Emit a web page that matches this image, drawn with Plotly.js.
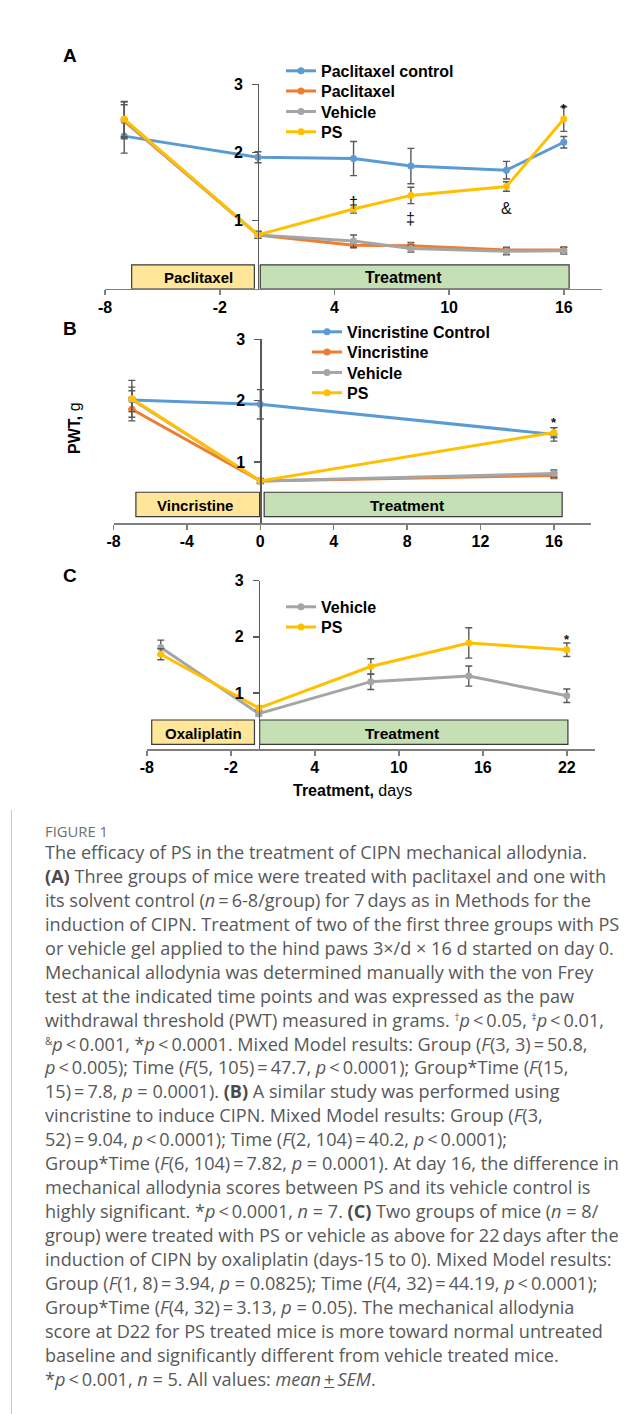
<!DOCTYPE html>
<html>
<head>
<meta charset="utf-8">
<script src="https://cdn.plot.ly/plotly-3.0.1.min.js"></script>
<style>
  html, body { margin: 0; padding: 0; background: #fff; }
  #page { position: relative; width: 643px; height: 1414px; overflow: hidden; background: #fff; }
  #frame { position: absolute; left: 11px; top: 11px; width: 700px; height: 1500px;
           border-top: 1.5px solid #c9c9c9; border-left: 1.5px solid #c9c9c9; }
  #chart { position: absolute; left: 0; top: 0; width: 643px; height: 810px; }
  #figlabel { position: absolute; left: 45px; top: 821px; font-family: "Open Sans", Lato, sans-serif;
              font-size: 14.8px; line-height: 20px; color: #6f6f6f; }
  #caption { position: absolute; left: 45px; top: 841px; font-family: "Open Sans", Lato, sans-serif;
             font-size: 18.1px; line-height: 23.94px; color: #585858; white-space: nowrap; }
  #caption b { font-weight: bold; color: #4a4a4a; }
  #caption sup { font-size: 10px; vertical-align: 6px; line-height: 0; }
</style>
</head>
<body>
<div id="page">
  <div id="frame"></div>
  <div id="chart"></div>
  <div id="figlabel">FIGURE 1</div>
  <div id="caption">
The efficacy of PS in the treatment of CIPN mechanical allodynia.<br>
<b>(A)</b> Three groups of mice were treated with paclitaxel and one with<br>
its solvent control (<i>n</i>&#8201;=&#8201;6-8/group) for 7&#8201;days as in Methods for the<br>
induction of CIPN. Treatment of two of the first three groups with PS<br>
or vehicle gel applied to the hind paws 3×/d × 16 d started on day 0.<br>
Mechanical allodynia was determined manually with the von Frey<br>
test at the indicated time points and was expressed as the paw<br>
withdrawal threshold (PWT) measured in grams. <sup>†</sup><i>p</i>&#8201;&lt;&#8201;0.05, <sup>‡</sup><i>p</i>&#8201;&lt;&#8201;0.01,<br>
<sup>&amp;</sup><i>p</i>&#8201;&lt;&#8201;0.001, *<i>p</i>&#8201;&lt;&#8201;0.0001. Mixed Model results: Group (<i>F</i>(3, 3)&#8201;=&#8201;50.8,<br>
<i>p</i>&#8201;&lt;&#8201;0.005); Time (<i>F</i>(5, 105)&#8201;=&#8201;47.7, <i>p</i>&#8201;&lt;&#8201;0.0001); Group*Time (<i>F</i>(15,<br>
15)&#8201;=&#8201;7.8, <i>p</i> = 0.0001). <b>(B)</b> A similar study was performed using<br>
vincristine to induce CIPN. Mixed Model results: Group (<i>F</i>(3,<br>
52)&#8201;=&#8201;9.04, <i>p</i>&#8201;&lt;&#8201;0.0001); Time (<i>F</i>(2, 104)&#8201;=&#8201;40.2, <i>p</i>&#8201;&lt;&#8201;0.0001);<br>
Group*Time (<i>F</i>(6, 104)&#8201;=&#8201;7.82, <i>p</i> = 0.0001). At day 16, the difference in<br>
mechanical allodynia scores between PS and its vehicle control is<br>
highly significant. *<i>p</i>&#8201;&lt;&#8201;0.0001, <i>n</i> = 7. <b>(C)</b> Two groups of mice (<i>n</i> = 8/<br>
group) were treated with PS or vehicle as above for 22&#8201;days after the<br>
induction of CIPN by oxaliplatin (days-15 to 0). Mixed Model results:<br>
Group (<i>F</i>(1, 8)&#8201;=&#8201;3.94, <i>p</i> = 0.0825); Time (<i>F</i>(4, 32)&#8201;=&#8201;44.19, <i>p</i>&#8201;&lt;&#8201;0.0001);<br>
Group*Time (<i>F</i>(4, 32)&#8201;=&#8201;3.13, <i>p</i> = 0.05). The mechanical allodynia<br>
score at D22 for PS treated mice is more toward normal untreated<br>
baseline and significantly different from vehicle treated mice.<br>
*<i>p</i>&#8201;&lt;&#8201;0.001, <i>n</i> = 5. All values: <i>mean</i>&#8201;<u>+</u>&#8201;<i>SEM</i>.
  </div>
</div>
<script>
// ---------- Panel A: paclitaxel-induced CIPN (PWT in grams, mean and SEM) ----------
const daysA = [-7, 0, 5, 8, 13, 16];
const paclitaxelControl    = [2.24, 1.93, 1.91, 1.80, 1.74, 2.15];
const paclitaxelControlSem = [0.25, 0.08, 0.25, 0.26, 0.13, 0.085];
const paclitaxel           = [2.46, 0.79, 0.64, 0.63, 0.57, 0.57];
const paclitaxelSem        = [0.24, 0.05, 0.04, 0.05, 0.04, 0.04];
const vehicleA             = [2.47, 0.79, 0.70, 0.59, 0.55, 0.56];
const vehicleASem          = [0.27, 0.05, 0.09, 0.05, 0.05, 0.05];
const psA                  = [2.49, 0.79, 1.17, 1.37, 1.50, 2.49];
const psASem               = [0.26, 0.05, 0.06, 0.12, 0.07, 0.18];

// ---------- Panel B: vincristine-induced CIPN ----------
const daysB = [-7, 0, 16];
const vincristineControl    = [2.01, 1.94, 1.45];
const vincristineControlSem = [0.15, 0.24, 0.11];
const vincristine           = [1.86, 0.69, 0.78];
const vincristineSem        = [0.19, 0.03, 0.05];
const vehicleB              = [2.02, 0.69, 0.81];
const vehicleBSem           = [0.20, 0.03, 0.06];
const psB                   = [2.03, 0.69, 1.48];
const psBSem                = [0.30, 0.04, 0.08];

// ---------- Panel C: oxaliplatin-induced CIPN ----------
const daysC = [-7, 0, 8, 15, 22];
const vehicleC    = [1.81, 0.63, 1.20, 1.30, 0.95];
const vehicleCSem = [0.13, 0.04, 0.14, 0.18, 0.12];
const psC         = [1.69, 0.73, 1.47, 1.89, 1.77];
const psCSem      = [0.10, 0.04, 0.14, 0.27, 0.12];

// Axis ticks (days and grams)
const xTicksA = [-8, -2, 4, 10, 16];
const xTicksB = [-8, -4, 0, 4, 8, 12, 16];
const xTicksC = [-8, -2, 4, 10, 16, 22];
const yTicks  = [1, 2, 3];

// Study phases (days) drawn as labelled bands along each time axis
const phaseNamesA = ['Paclitaxel', 'Treatment'];
const phaseStartA = [-6.61, 0.12];
const phaseEndA   = [-0.19, 16.28];
const phaseNamesB = ['Vincristine', 'Treatment'];
const phaseStartB = [-6.78, 0.21];
const phaseEndB   = [-0.04, 16.45];
const phaseNamesC = ['Oxaliplatin', 'Treatment'];
const phaseStartC = [-7.65, 0.06];
const phaseEndC   = [-0.31, 22.08];

// Significance marks (day, level in grams)
const sigMarksA = ['†', '‡', '&', '*'];
const sigDaysA  = [5, 8, 13, 16];
const sigLevelA = [1.26, 1.03, 1.18, 2.65];
const sigMarksB = ['*'];
const sigDaysB  = [16];
const sigLevelB = [1.65];
const sigMarksC = ['*'];
const sigDaysC  = [22];
const sigLevelC = [1.96];

// ---------- styling ----------
const W = 643, H = 810;
const BLUE = '#5B9BD5', ORANGE = '#ED7D31', GRAY = '#A5A5A5', GOLD = '#FFC000';
const ERR = '#595959';
const FONT = 'Arial, "Liberation Sans", sans-serif';

function series(name, x, y, sem, color, xa, ya) {
  return {
    type: 'scatter', mode: 'lines+markers', name: '<b>' + name + '</b>', x: x, y: y,
    xaxis: xa, yaxis: ya, cliponaxis: false, showlegend: true,
    line: { color: color, width: 3 },
    marker: { color: color, size: 7 },
    error_y: { type: 'data', array: sem, visible: true, color: ERR, thickness: 1.4, width: 3.5 }
  };
}

const groups = [
  [
    series('Paclitaxel control', daysA, paclitaxelControl, paclitaxelControlSem, BLUE, 'x', 'y'),
    series('Paclitaxel', daysA, paclitaxel, paclitaxelSem, ORANGE, 'x', 'y'),
    series('Vehicle', daysA, vehicleA, vehicleASem, GRAY, 'x', 'y'),
    series('PS', daysA, psA, psASem, GOLD, 'x', 'y')
  ],
  [
    series('Vincristine Control', daysB, vincristineControl, vincristineControlSem, BLUE, 'x2', 'y2'),
    series('Vincristine', daysB, vincristine, vincristineSem, ORANGE, 'x2', 'y2'),
    series('Vehicle', daysB, vehicleB, vehicleBSem, GRAY, 'x2', 'y2'),
    series('PS', daysB, psB, psBSem, GOLD, 'x2', 'y2')
  ],
  [
    series('Vehicle', daysC, vehicleC, vehicleCSem, GRAY, 'x3', 'y3'),
    series('PS', daysC, psC, psCSem, GOLD, 'x3', 'y3')
  ]
];

// pixel boxes of each panel's plotting area: left, right, bottom(y=0), top(y=3)
const panels = [
  { l: 105.1, r: 602.0, b: 288.8, t: 84.3, range: [-8, 18], ticks: xTicksA, legLeft: 286, legTop: 70.7 },
  { l: 113.5, r: 590.6, b: 523.3, t: 339.3, range: [-8, 18], ticks: xTicksB, legLeft: 312, legTop: 331.7 },
  { l: 146.8, r: 594.8, b: 749.0, t: 580.7, range: [-8, 24], ticks: xTicksC, legLeft: 286, legTop: 606.7 }
];
const ROW = 20.3;

const layout = {
  width: W, height: H,
  margin: { l: 0, r: 0, t: 0, b: 0 },
  paper_bgcolor: '#fff', plot_bgcolor: 'rgba(0,0,0,0)',
  font: { family: FONT, color: '#000', size: 16 },
  hovermode: false, showlegend: true,
  shapes: [], annotations: []
};

const tickFont = { family: FONT, size: 16, color: '#000', weight: 'bold' };

panels.forEach((p, i) => {
  const sfx = i === 0 ? '' : String(i + 1);
  const xd = [p.l / W, p.r / W];
  const yd = [1 - p.b / H, 1 - p.t / H];
  // y axis crosses the time axis at day 0
  const pos = xd[0] + (0 - p.range[0]) / (p.range[1] - p.range[0]) * (xd[1] - xd[0]);
  layout['xaxis' + sfx] = {
    domain: xd, range: p.range, anchor: 'y' + sfx,
    tickmode: 'array', tickvals: p.ticks, ticktext: p.ticks.map(String),
    showgrid: false, zeroline: false, showline: true, linecolor: '#7f7f7f', linewidth: 1.5,
    ticks: 'outside', ticklen: 5, tickwidth: 1.5, tickcolor: '#7f7f7f',
    tickfont: tickFont, ticklabelstandoff: -2, fixedrange: true
  };
  layout['yaxis' + sfx] = {
    domain: yd, range: [0, 3], anchor: 'free', position: pos,
    tickmode: 'array', tickvals: yTicks, ticktext: yTicks.map(String),
    showgrid: false, zeroline: false, showline: true, linecolor: '#595959', linewidth: 1.5,
    ticks: 'outside', ticklen: 6, tickwidth: 1.5, tickcolor: '#595959',
    tickfont: tickFont, ticklabelstandoff: 6, fixedrange: true
  };
});

// one legend entry per row, stacked at a fixed row pitch beside each panel
const traces = [];
let legendCount = 0;
groups.forEach((g, i) => {
  const p = panels[i];
  g.forEach((tr, r) => {
    legendCount += 1;
    const id = legendCount === 1 ? 'legend' : 'legend' + legendCount;
    tr.legend = id;
    traces.push(tr);
    layout[id] = {
      visible: true,
      x: (p.legLeft - 5) / W, y: 1 - (p.legTop + r * ROW - 16.8) / H,
      xanchor: 'left', yanchor: 'top',
      bgcolor: 'rgba(0,0,0,0)', borderwidth: 0, itemwidth: 30,
      font: { family: FONT, size: 16, color: '#000' }
    };
  });
});

// phase bands with their labels
function addPhases(names, starts, ends, y0, y1, xref, yref, shifts, sizes) {
  names.forEach((n, k) => {
    layout.shapes.push({
      type: 'rect', xref: xref, yref: yref, layer: 'below',
      x0: starts[k], x1: ends[k], y0: y0, y1: y1,
      fillcolor: k === 0 ? '#FFE699' : '#C5E0B4',
      line: { color: '#3a3a3a', width: 1.2 }
    });
    layout.annotations.push({
      xref: xref, yref: yref, x: (starts[k] + ends[k]) / 2, y: (y0 + y1) / 2,
      xanchor: 'center', yanchor: 'middle',
      text: '<b>' + n + '</b>', showarrow: false, xshift: shifts[k], yshift: -1,
      font: { family: FONT, size: sizes[k], color: '#000' }
    });
  });
}
addPhases(phaseNamesA, phaseStartA, phaseEndA, 0, 0.35, 'x', 'y', [5, -11], [15, 16]);
addPhases(phaseNamesB, phaseStartB, phaseEndB, 0.11, 0.506, 'x2', 'y2', [-3, -6], [15, 15.5]);
addPhases(phaseNamesC, phaseStartC, phaseEndC, 0.084, 0.517, 'x3', 'y3', [0, -12], [15, 15.5]);

// significance marks
function addMarks(marks, days, levels, xref, yref) {
  marks.forEach((m, k) => {
    const star = m === '*';
    layout.annotations.push({
      xref: xref, yref: yref, x: days[k], y: levels[k], text: star ? '<b>*</b>' : m,
      xanchor: 'center', yanchor: 'middle',
      showarrow: false, font: { family: FONT, size: star ? 13 : 16, color: '#111' }
    });
  });
}
addMarks(sigMarksA, sigDaysA, sigLevelA, 'x', 'y');
addMarks(sigMarksB, sigDaysB, sigLevelB, 'x2', 'y2');
addMarks(sigMarksC, sigDaysC, sigLevelC, 'x3', 'y3');

// panel letters and shared axis titles
function paperText(text, px, py, size, angle) {
  layout.annotations.push({
    xref: 'paper', yref: 'paper', x: px / W, y: 1 - py / H,
    xanchor: 'center', yanchor: 'middle', textangle: angle || 0,
    text: text, showarrow: false, font: { family: FONT, size: size, color: '#000' }
  });
}
paperText('<b>A</b>', 69.5, 55.8, 19);
paperText('<b>B</b>', 69.7, 329, 19);
paperText('<b>C</b>', 69.7, 575.5, 19);
paperText('<b>PWT,</b> g', 74.6, 428.3, 16, -90);
paperText('<b>Treatment,</b> days', 352.5, 790, 16);

Plotly.newPlot('chart', traces, layout, { staticPlot: true, displayModeBar: false });
</script>
</body>
</html>
